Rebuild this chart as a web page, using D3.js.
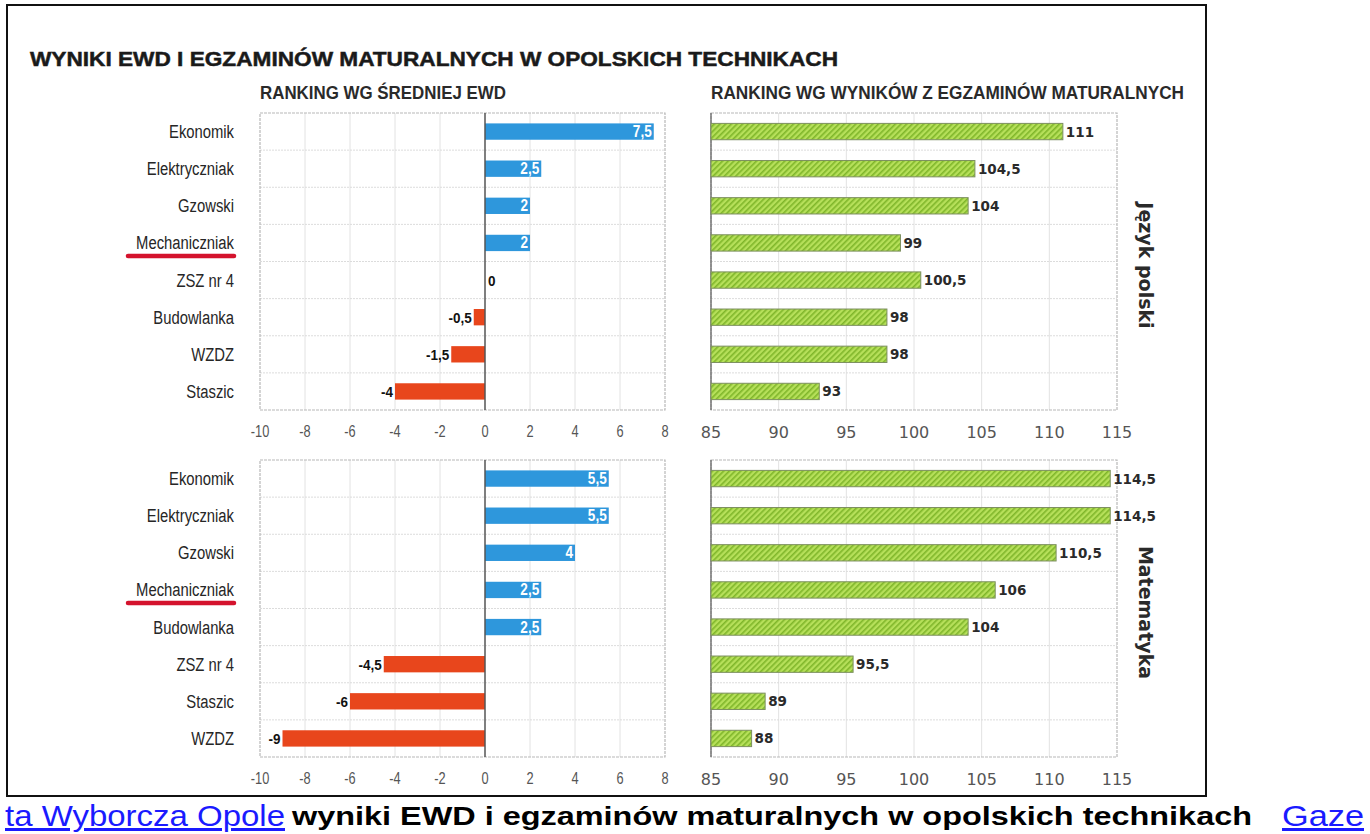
<!DOCTYPE html>
<html><head><meta charset="utf-8">
<script src="https://cdn.jsdelivr.net/npm/d3@7"></script>
<style>html,body{margin:0;padding:0;background:#fff;overflow:hidden}</style>
</head><body>
<script>
// ---- data ----
const schoolsPolish = ["Ekonomik","Elektryczniak","Gzowski","Mechaniczniak","ZSZ nr 4","Budowlanka","WZDZ","Staszic"];
const ewdPolish = [7.5,2.5,2,2,0,-0.5,-1.5,-4];
const maturaPolish = [111,104.5,104,99,100.5,98,98,93];
const schoolsMath = ["Ekonomik","Elektryczniak","Gzowski","Mechaniczniak","Budowlanka","ZSZ nr 4","Staszic","WZDZ"];
const ewdMath = [5.5,5.5,4,2.5,2.5,-4.5,-6,-9];
const maturaMath = [114.5,114.5,110.5,106,104,95.5,89,88];
const ewdTicks = [-10,-8,-6,-4,-2,0,2,4,6,8];
const maturaTicks = [85,90,95,100,105,110,115];
const highlighted = "Mechaniczniak";
const titleText = "WYNIKI EWD I EGZAMINÓW MATURALNYCH W OPOLSKICH TECHNIKACH";
const subLeft = "RANKING WG ŚREDNIEJ EWD";
const subRight = "RANKING WG WYNIKÓW Z EGZAMINÓW MATURALNYCH";
const sideLabels = ["Język polski","Matematyka"];

const W = 1370, H = 834;
const svg = d3.select("body").append("svg").attr("width", W).attr("height", H);
const loc = d3.formatLocale({decimal: ",", thousands: " ", grouping: [3], currency: ["", " zł"], minus: "-"});
const fmt = loc.format("~g");

const defs = svg.append("defs");
const pat = defs.append("pattern").attr("id","hatch").attr("patternUnits","userSpaceOnUse")
  .attr("width",4).attr("height",4).attr("patternTransform","rotate(45)");
pat.append("rect").attr("width",4).attr("height",4).attr("fill","#b6e05a");
pat.append("rect").attr("width",1.6).attr("height",4).attr("fill","#7fb62a");

svg.append("rect").attr("width",W).attr("height",H).attr("fill","#fff");
// frame
svg.append("rect").attr("x",7).attr("y",5).attr("width",1199).attr("height",791)
  .attr("fill","none").attr("stroke","#111").attr("stroke-width",2);

const condensed = "'Liberation Sans', Arial, sans-serif";
function ctext(g, x, y, txt, opts) {
  const sx = opts.sx || 0.8;
  return g.append("text").attr("transform", `translate(${x},${y}) scale(${sx},1)`)
    .attr("text-anchor", opts.anchor || "start")
    .attr("font-family", condensed).attr("font-size", opts.size || 16)
    .attr("font-weight", opts.weight || "normal").attr("fill", opts.fill || "#333")
    .text(txt);
}

// title
svg.append("text").attr("x",30).attr("y",66).attr("font-family","'Liberation Sans', Arial, sans-serif")
  .attr("font-weight","bold").attr("font-size",21).attr("fill","#1a1a1a")
  .attr("stroke","#1a1a1a").attr("stroke-width",0.5)
  .attr("textLength",808).attr("lengthAdjust","spacingAndGlyphs").text(titleText);
svg.append("text").attr("x",260).attr("y",99).attr("font-family",condensed)
  .attr("font-weight","bold").attr("font-size",18).attr("fill","#2a2a2a")
  .attr("textLength",246).attr("lengthAdjust","spacingAndGlyphs").text(subLeft);
svg.append("text").attr("x",711).attr("y",99).attr("font-family",condensed)
  .attr("font-weight","bold").attr("font-size",18).attr("fill","#2a2a2a")
  .attr("textLength",473).attr("lengthAdjust","spacingAndGlyphs").text(subRight);

const xL = d3.scaleLinear().domain([-10, 8]).range([260, 665]);
const xR = d3.scaleLinear().domain([85, 115]).range([711, 1117]);

function panel(schools, ewd, matura, top, bottom, sideLabel) {
  const y = d3.scaleBand().domain(schools).range([top, bottom]).paddingInner(0.56).paddingOuter(0.28);
  const step = y.step();
  // ---- left panel ----
  const gl = svg.append("g");
  gl.selectAll("line.v").data(ewdTicks.slice(1,-1).filter(d=>d!==0)).join("line")
    .attr("x1", d=>xL(d)).attr("x2", d=>xL(d)).attr("y1", top).attr("y2", bottom)
    .attr("stroke","#e2e2e2").attr("stroke-width",1);
  gl.selectAll("line.h").data(schools.slice(1)).join("line")
    .attr("x1", xL.range()[0]).attr("x2", xL.range()[1])
    .attr("y1", d=>y(d)-(step-y.bandwidth())/2).attr("y2", d=>y(d)-(step-y.bandwidth())/2)
    .attr("stroke","#dcdcdc").attr("stroke-width",1).attr("stroke-dasharray","2,1");
  gl.append("rect").attr("x", xL.range()[0]).attr("y", top).attr("width", xL.range()[1]-xL.range()[0])
    .attr("height", bottom-top).attr("fill","none").attr("stroke","#b8b8b8").attr("stroke-width",1.2)
    .attr("stroke-dasharray","3,1");
  gl.selectAll("rect.bar").data(schools).join("rect")
    .attr("x", (d,i)=>xL(Math.min(0, ewd[i]))).attr("y", d=>y(d))
    .attr("width", (d,i)=>Math.abs(xL(ewd[i])-xL(0))).attr("height", y.bandwidth())
    .attr("fill", (d,i)=>ewd[i] >= 0 ? "#2e97dc" : "#e8461c");
  gl.append("line").attr("x1", xL(0)).attr("x2", xL(0)).attr("y1", top).attr("y2", bottom)
    .attr("stroke","#555").attr("stroke-width",1.5);
  schools.forEach((s,i) => {
    const v = ewd[i], yy = y(s) + y.bandwidth()/2 + 5.5;
    if (v > 0) ctext(gl, xL(v)-2, yy, fmt(v), {anchor:"end", size:16, weight:"bold", fill:"#fff", sx:0.85});
    else if (v === 0) ctext(gl, xL(0)+3, yy, fmt(v), {anchor:"start", size:15, weight:"bold", fill:"#111", sx:0.9});
    else ctext(gl, xL(v)-2, yy, fmt(v), {anchor:"end", size:15, weight:"bold", fill:"#111", sx:0.9});
  });
  schools.forEach(s => {
    ctext(gl, 234, y(s)+y.bandwidth()/2+6.5, s, {anchor:"end", size:19, fill:"#262626", sx:0.78});
  });
  if (schools.indexOf(highlighted) >= 0) {
    const yy = y(highlighted) + y.bandwidth()/2 + 13;
    gl.append("line").attr("x1",128).attr("x2",234).attr("y1",yy).attr("y2",yy)
      .attr("stroke","#d4132d").attr("stroke-width",4.5).attr("stroke-linecap","round");
  }
  ewdTicks.forEach(t => ctext(gl, xL(t), bottom+27, fmt(t), {anchor:"middle", size:16, fill:"#555", sx:0.8}));

  // ---- right panel ----
  const gr = svg.append("g");
  gr.selectAll("line.v").data(maturaTicks.slice(1,-1)).join("line")
    .attr("x1", d=>xR(d)).attr("x2", d=>xR(d)).attr("y1", top).attr("y2", bottom)
    .attr("stroke","#e2e2e2").attr("stroke-width",1);
  gr.selectAll("line.h").data(schools.slice(1)).join("line")
    .attr("x1", xR.range()[0]).attr("x2", xR.range()[1])
    .attr("y1", d=>y(d)-(step-y.bandwidth())/2).attr("y2", d=>y(d)-(step-y.bandwidth())/2)
    .attr("stroke","#dcdcdc").attr("stroke-width",1).attr("stroke-dasharray","2,1");
  gr.append("rect").attr("x", xR.range()[0]).attr("y", top).attr("width", xR.range()[1]-xR.range()[0])
    .attr("height", bottom-top).attr("fill","none").attr("stroke","#b8b8b8").attr("stroke-width",1.2)
    .attr("stroke-dasharray","3,1");
  gr.append("line").attr("x1", xR(85)).attr("x2", xR(85)).attr("y1", top).attr("y2", bottom)
    .attr("stroke","#777").attr("stroke-width",1.5);
  gr.selectAll("rect.bar").data(schools).join("rect")
    .attr("x", xR(85)).attr("y", d=>y(d))
    .attr("width", (d,i)=>xR(matura[i])-xR(85)).attr("height", y.bandwidth())
    .attr("fill","url(#hatch)").attr("stroke","#7d8f60").attr("stroke-width",1);
  gr.selectAll("text.val").data(schools).join("text")
    .attr("x", (d,i)=>xR(matura[i])+3).attr("y", d=>y(d)+y.bandwidth()/2+5)
    .attr("font-family","'DejaVu Sans', Verdana, sans-serif").attr("font-weight","bold")
    .attr("font-size",13.5).attr("fill","#2a2a2a").text((d,i)=>fmt(matura[i]));
  gr.selectAll("text.tick").data(maturaTicks).join("text")
    .attr("x", d=>xR(d)).attr("y", bottom+28).attr("text-anchor","middle")
    .attr("font-family","'DejaVu Sans', Verdana, sans-serif").attr("font-size",16).attr("fill","#555")
    .text(d=>fmt(d));
  const cy = (top+bottom)/2 + 4;
  gr.append("text").attr("transform", `translate(1139,${cy}) rotate(90)`).attr("text-anchor","middle")
    .attr("font-family","'DejaVu Sans', Verdana, sans-serif").attr("font-weight","bold")
    .attr("font-size",19).attr("fill","#2a2a2a").text(sideLabel);
}

panel(schoolsPolish, ewdPolish, maturaPolish, 113, 410, sideLabels[0]);
panel(schoolsMath, ewdMath, maturaMath, 460, 757, sideLabels[1]);

// bottom strip (garbled page text from the source screenshot)
const strip = svg.append("g");
const junk = "wyniki EWD i egzaminów maturalnych w opolskich technikach";
strip.append("text").attr("x",292).attr("y",825).attr("font-family",condensed).attr("font-weight","bold")
  .attr("font-size",26).attr("fill","#000").attr("textLength",960).attr("lengthAdjust","spacingAndGlyphs").text(junk);
strip.append("text").attr("x",5).attr("y",826).attr("font-family",condensed)
  .attr("font-size",30).attr("fill","#1a1aff").attr("text-decoration","underline")
  .attr("textLength",280).attr("lengthAdjust","spacingAndGlyphs").text("ta Wyborcza Opole");
strip.append("text").attr("x",1282).attr("y",826).attr("font-family",condensed)
  .attr("font-size",30).attr("fill","#1a1aff").attr("text-decoration","underline")
  .attr("textLength",82).attr("lengthAdjust","spacingAndGlyphs").text("Gaze");
</script>
</body></html>
